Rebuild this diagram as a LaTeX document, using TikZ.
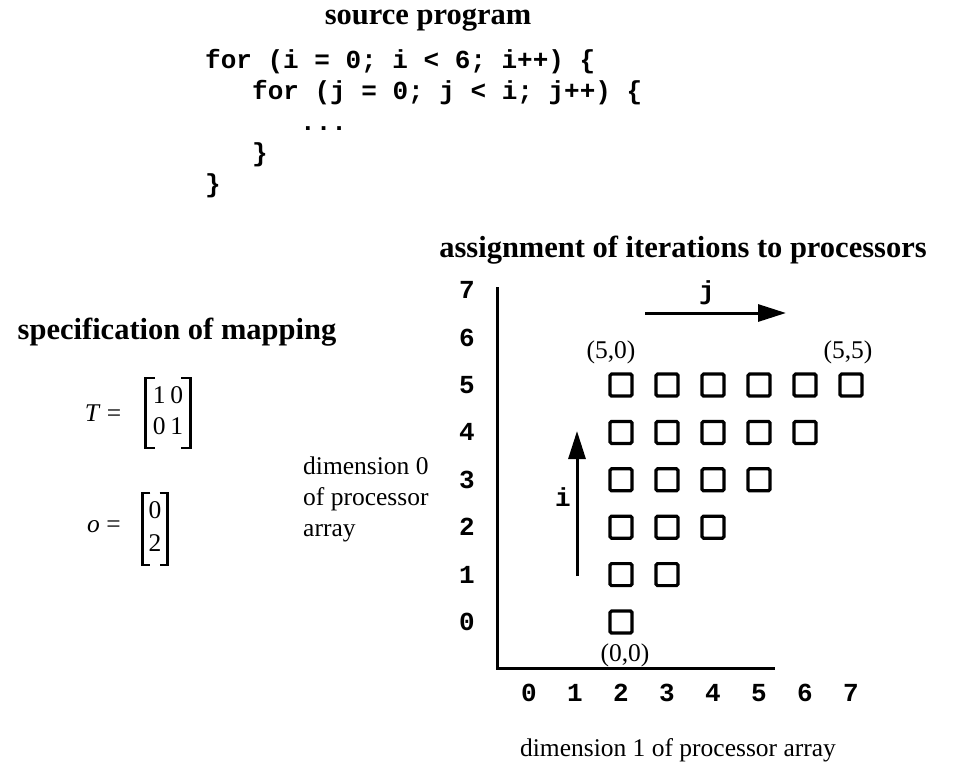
\documentclass[tikz,border=0pt]{standalone}
\usepackage{fontspec}
\setmainfont{Liberation Serif}
\setmonofont{Liberation Mono}
\usetikzlibrary{arrows.meta}

\begin{document}
\begin{tikzpicture}[x=1pt,y=-1pt,
  heading/.style={font=\fontsize{30.5}{36}\selectfont\bfseries,inner sep=0pt},
  plain/.style={font=\fontsize{25.5}{31}\selectfont,inner sep=0pt},
  code/.style={font=\fontsize{26}{31}\selectfont\ttfamily\bfseries,anchor=west,
               inner sep=0pt,text height=19pt,text depth=6pt},
  tick/.style={font=\fontsize{26}{31}\selectfont\ttfamily\bfseries,inner sep=0pt},
  entries/.style={font=\fontsize{25.5}{31}\selectfont,inner xsep=7pt,inner ysep=4pt},
  brk/.style={line width=2.4pt},
  cell/.style={draw,line width=3.2pt,rounded corners=1.5pt,minimum size=22pt,inner sep=0pt},
  axis/.style={line width=3pt},
  dir/.style={line width=3pt,-{Triangle[length=28pt,width=17pt]}},
]
\useasboundingbox (0,0) rectangle (966,763);

\node[heading] (srctitle) at (428,20) {source program};
\node[code] (loopi) at (205,62) {for (i = 0; i < 6; i++) \{};
\node[code] (loopj) at (252,93) {for (j = 0; j < i; j++) \{};
\node[code] (body) at (300,124) {...};
\node[code] (closej) at (252,155) {\}};
\node[code] (closei) at (205,186) {\}};

\node[heading] (maptitle) at (177,332) {specification of mapping};
\node[plain] (Tlabel) at (103,413) {\textit{T} =};
\node[entries] (Tmat) at (168,413)
  {\begin{tabular}{@{}c@{\hspace{5pt}}c@{}}1&0\\0&1\end{tabular}};
\draw[brk] ([xshift=9pt]Tmat.north west) -- (Tmat.north west) -- (Tmat.south west) -- ([xshift=9pt]Tmat.south west);
\draw[brk] ([xshift=-9pt]Tmat.north east) -- (Tmat.north east) -- (Tmat.south east) -- ([xshift=-9pt]Tmat.south east);
\node[plain] (olabel) at (104,527) {\textit{o} =};
\node[entries,inner xsep=6pt] (ovec) at (155,529)
  {\begin{tabular}{@{}c@{}}0\\[2pt]2\end{tabular}};
\draw[brk] ([xshift=8pt]ovec.north west) -- (ovec.north west) -- (ovec.south west) -- ([xshift=8pt]ovec.south west);
\draw[brk] ([xshift=-8pt]ovec.north east) -- (ovec.north east) -- (ovec.south east) -- ([xshift=-8pt]ovec.south east);
\node[plain,align=left,anchor=west] (dim0) at (303,499) {dimension 0\\of processor\\array};

\node[heading] (gridtitle) at (683,250) {assignment of iterations to processors};
\coordinate (ytop) at (497,287);
\coordinate (origin) at (497,668);
\coordinate (xend) at (775,668);
\draw[axis] (ytop) -- (origin) -- (xend);
\foreach \k in {0,...,7} {
  \node[tick] (row\k) at (467,622-47.4*\k) {\k};
  \node[tick] (col\k) at (529+46*\k,693) {\k};
}
\foreach \i in {0,...,5} {
  \foreach \j in {0,...,\i} {
    \node[cell] (cell-\i-\j) at (621+46*\j,622-47.4*\i) {};
  }
}
\node[plain] (lab00) at (625,655) {(0,0)};
\node[plain] (lab50) at (611,352) {(5,0)};
\node[plain] (lab55) at (848,352) {(5,5)};

\coordinate (jstart) at (645,313);
\coordinate (jend) at (786,313);
\draw[dir] (jstart) -- (jend);
\node[tick] (jlabel) at (707,293) {j};
\coordinate (istart) at (577,576);
\coordinate (iend) at (577,431);
\draw[dir] (istart) -- (iend);
\node[tick] (ilabel) at (563,497) {i};

\node[plain] (dim1) at (678,750) {dimension 1 of processor array};
\end{tikzpicture}
\end{document}
